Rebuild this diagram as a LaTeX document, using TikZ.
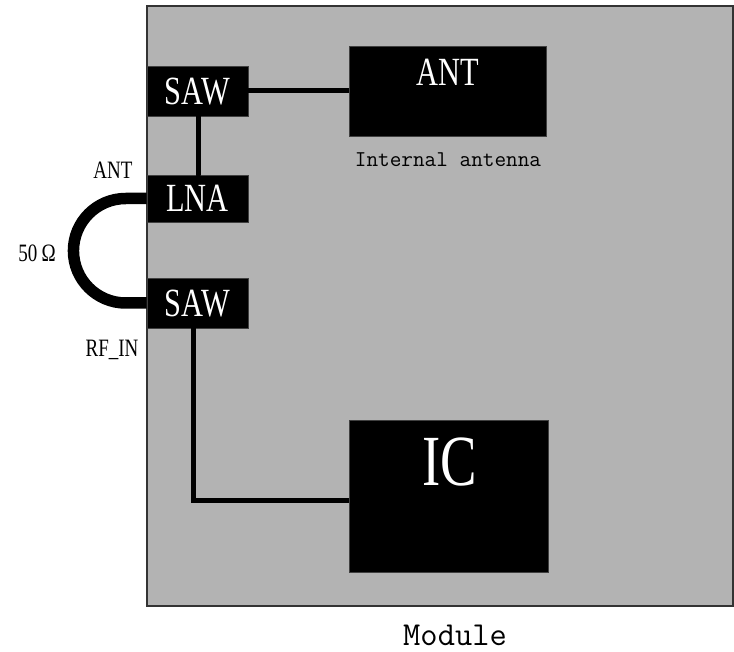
\documentclass[tikz,border=0pt]{standalone}
\usepackage{fontspec}
\newfontfamily\cserif{Liberation Serif}[FakeStretch=0.76]
\begin{document}
\begin{tikzpicture}[x=1pt,y=-1pt,
  blk/.style={draw=black!75,line width=0.6pt,fill=black,inner sep=0pt,text=white},
  boxtxt/.style={font=\cserif\fontsize{40}{40}\selectfont,text=white,inner sep=0pt,text depth=0pt},
  lbl/.style={font=\cserif\fontsize{25}{25}\selectfont,inner sep=0pt,text depth=0pt},
  mono/.style={font=\ttfamily\fontsize{22.6}{22.6}\selectfont,inner sep=0pt,text depth=0pt},
  wire/.style={line width=5pt,black,line cap=round},
  loopline/.style={line width=11.5pt,black}]
\useasboundingbox (0,0) rectangle (734,652);
% module
\node[draw=black!80,line width=1.2pt,fill={rgb,255:red,179;green,179;blue,179},minimum width=586pt,minimum height=600pt,inner sep=0pt] (module) at (440,306) {};
\node[mono,font=\ttfamily\fontsize{33.5}{33.5}\selectfont] (modlbl) at (455,635) {Module};
% blocks
\node[blk,minimum width=101pt,minimum height=50pt,boxtxt] (saw1) at (197.5,91) {SAW};
\node[blk,minimum width=101pt,minimum height=47pt,boxtxt] (lna) at (197.5,198.5) {LNA};
\node[blk,minimum width=101pt,minimum height=50pt,boxtxt] (saw2) at (197.5,303) {SAW};
\node[blk,minimum width=197pt,minimum height=90pt] (antbox) at (447.5,91) {};
\node[boxtxt] (anttxt) at (448,72) {ANT};
\node[mono] (intlbl) at (448,160) {Internal antenna};
\node[blk,minimum width=199pt,minimum height=152pt] (icbox) at (448.5,496) {};
\node[boxtxt,font=\cserif\fontsize{72}{72}\selectfont] (ictxt) at (450,462) {IC};
% outside labels
\node[lbl] (antlbl) at (113,170) {ANT};
\node[lbl] (ohm) at (37,253) {50\,Ω};
\node[lbl] (rfin) at (112,348) {RF\_IN};
% connectors
\draw[wire] ([xshift=0.5pt]saw1.south) -- ([xshift=0.5pt]lna.north);
\draw[wire,line cap=butt] (saw1.east) -- (antbox.west);
\draw[wire,line cap=butt] ([xshift=-4.5pt]saw2.south) -- ([xshift=-4.5pt]saw2.south |- 0,500) -- (icbox.west |- 0,500);
\draw[loopline] (lna.west) -- ++(-21,0) .. controls +(-28.86,0) and +(0,-28.86) .. ++(-52.25,52.25) .. controls +(0,28.86) and +(-28.86,0) .. ++(52.25,52.25) -- (saw2.west);
\end{tikzpicture}
\end{document}
